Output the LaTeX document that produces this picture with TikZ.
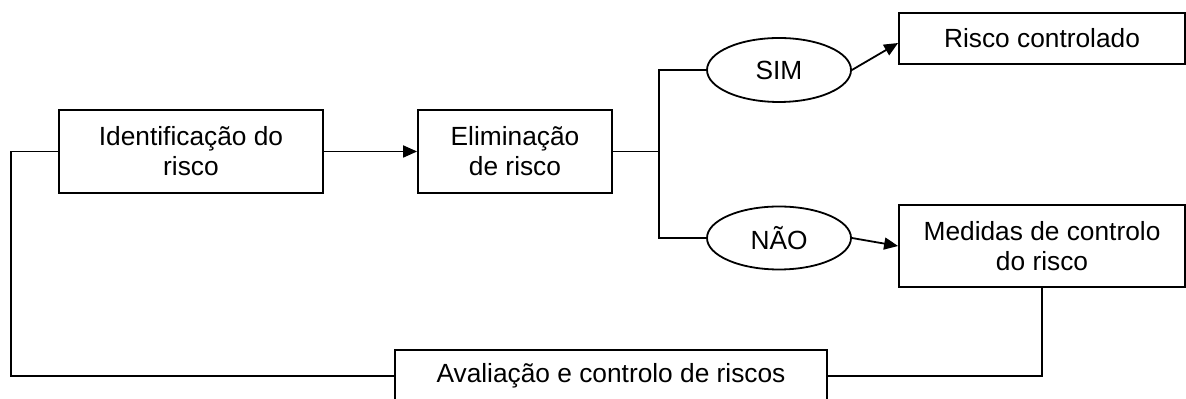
\documentclass[tikz,border=0pt]{standalone}
\usepackage{fontspec}
\setmainfont{Liberation Sans}
\usepackage{tikz}
\usetikzlibrary{arrows.meta,shapes}

\tikzset{
  caixa/.style = {draw, line width=0.9pt, align=center, inner sep=0pt,
                  font=\fontsize{13.15}{15}\selectfont},
  oval/.style  = {draw, ellipse, line width=0.9pt, inner sep=0pt,
                  font=\fontsize{13.15}{15}\selectfont}
}

\begin{document}
\begin{tikzpicture}[x=0.5pt,y=-0.5pt,line width=0.9pt,>={Triangle[length=7pt,width=6pt]}]
\useasboundingbox (0,0) rectangle (1186,399);

\node[caixa,minimum width=132pt,minimum height=41.5pt] (ident) at (191,151.5) {Identificação do\\risco};
\node[caixa,minimum width=97pt,minimum height=41.5pt] (elim) at (515,151.5) {Eliminação\\de risco};
\node[oval,minimum width=72pt,minimum height=32pt] (sim) at (779,70) {SIM};
\node[oval,minimum width=72pt,minimum height=31.5pt] (nao) at (779,238) {NÃO};
\node[caixa,minimum width=143pt,minimum height=25.5pt] (ctrl) at (1042,38.5) {Risco controlado};
\node[caixa,minimum width=143pt,minimum height=41pt] (medidas) at (1042,246) {Medidas de controlo\\do risco};
\node[caixa,minimum width=216pt,minimum height=26pt] (aval) at (611,376) {Avaliação e controlo de riscos};

\coordinate (fork) at (659,151.5);
\coordinate (loop) at (11,376);

\draw [->] (ident.east) -- (elim.west);
\draw (elim.east) -- (fork);
\draw (sim.west) -| (fork) |- (nao.west);
\draw [->] (sim.east) -- ([yshift=-2.25pt]ctrl.west);
\draw [->] (nao.east) -- (medidas.west);
\draw (medidas.south) |- (aval.east);
\draw (aval.west) -- (loop) |- (ident.west);
\end{tikzpicture}
\end{document}
